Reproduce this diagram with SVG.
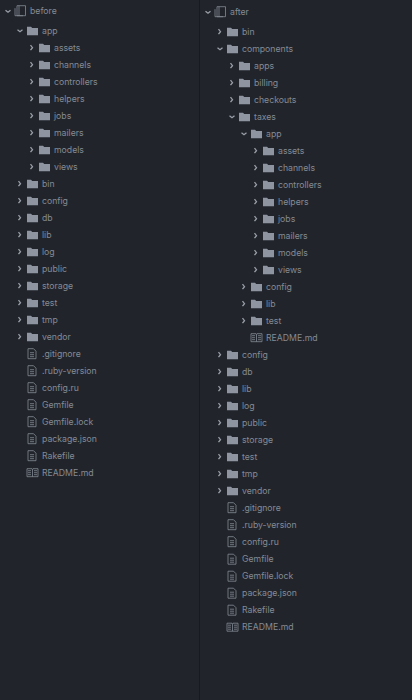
<svg xmlns="http://www.w3.org/2000/svg" width="412" height="700" viewBox="0 0 412 700">
<style>
text{font-family:Inter,"Liberation Sans",sans-serif;font-size:8.7px;fill:#858a94}
.c{fill:none;stroke:#9a9fa9;stroke-width:1.3}
.f{fill:#8f95a0}
.l{fill:none;stroke:#858b96;stroke-width:.8}
</style>
<defs>
<path id="o" class="c" d="M-23.500-2.500l2 2.500-2 2.500"/>
<path id="v" class="c" d="M-24.500-1l2.500 2 2.500-2"/>
<path id="d" class="f" d="M-15-4h4l1.200 1.200h5.800v7.300h-11z"/>
<g id="t"><path class="l" d="M-14-5h5.500l2.500 2.500v7.500h-8zM-12-1h4M-12 1h4M-12 3h4"/></g>
<g id="b"><path class="l" d="M-15-4h5l.5 1 .5-1h5v8h-11zM-9.500-3v7M-14-2h3M-14 0h3M-14 2h3M-8-2h3M-8 0h3M-8 2h3"/></g>
<g id="r"><path class="l" d="M-13-5.500h8.500v10h-8.500zM-11-5.500v10M-15-3v7.500h8"/></g>
</defs>
<rect width="412" height="700" fill="#21252b"/>
<rect x="199" width="1" height="700" fill="#181a1f"/>
<g id="before-tree" transform="translate(0,.7)">
<g id="l-root" transform="translate(30,10.500)"><use href="#v"/><use href="#r"/><text y="3">before</text></g>
<g id="l-app" transform="translate(42,30)"><use href="#v"/><use href="#d"/><text y="3">app</text></g>
<g id="l-assets" transform="translate(54,47)"><use href="#o"/><use href="#d"/><text y="3">assets</text></g>
<g id="l-channels" transform="translate(54,64)"><use href="#o"/><use href="#d"/><text y="3">channels</text></g>
<g id="l-controllers" transform="translate(54,81)"><use href="#o"/><use href="#d"/><text y="3">controllers</text></g>
<g id="l-helpers" transform="translate(54,98)"><use href="#o"/><use href="#d"/><text y="3">helpers</text></g>
<g id="l-jobs" transform="translate(54,115)"><use href="#o"/><use href="#d"/><text y="3">jobs</text></g>
<g id="l-mailers" transform="translate(54,132)"><use href="#o"/><use href="#d"/><text y="3">mailers</text></g>
<g id="l-models" transform="translate(54,149)"><use href="#o"/><use href="#d"/><text y="3">models</text></g>
<g id="l-views" transform="translate(54,166)"><use href="#o"/><use href="#d"/><text y="3">views</text></g>
<g id="l-bin" transform="translate(42,183)"><use href="#o"/><use href="#d"/><text y="3">bin</text></g>
<g id="l-config" transform="translate(42,200)"><use href="#o"/><use href="#d"/><text y="3">config</text></g>
<g id="l-db" transform="translate(42,217)"><use href="#o"/><use href="#d"/><text y="3">db</text></g>
<g id="l-lib" transform="translate(42,234)"><use href="#o"/><use href="#d"/><text y="3">lib</text></g>
<g id="l-log" transform="translate(42,251)"><use href="#o"/><use href="#d"/><text y="3">log</text></g>
<g id="l-public" transform="translate(42,268)"><use href="#o"/><use href="#d"/><text y="3">public</text></g>
<g id="l-storage" transform="translate(42,285)"><use href="#o"/><use href="#d"/><text y="3">storage</text></g>
<g id="l-test" transform="translate(42,302)"><use href="#o"/><use href="#d"/><text y="3">test</text></g>
<g id="l-tmp" transform="translate(42,319)"><use href="#o"/><use href="#d"/><text y="3">tmp</text></g>
<g id="l-vendor" transform="translate(42,336)"><use href="#o"/><use href="#d"/><text y="3">vendor</text></g>
<g id="l-gitignore" transform="translate(42,353)"><use href="#t"/><text y="3">.gitignore</text></g>
<g id="l-ruby" transform="translate(42,370)"><use href="#t"/><text y="3">.ruby-version</text></g>
<g id="l-configru" transform="translate(42,387)"><use href="#t"/><text y="3">config.ru</text></g>
<g id="l-gemfile" transform="translate(42,404)"><use href="#t"/><text y="3">Gemfile</text></g>
<g id="l-lock" transform="translate(42,421)"><use href="#t"/><text y="3">Gemfile.lock</text></g>
<g id="l-package" transform="translate(42,438)"><use href="#t"/><text y="3">package.json</text></g>
<g id="l-rake" transform="translate(42,455)"><use href="#t"/><text y="3">Rakefile</text></g>
<g id="l-readme" transform="translate(42,472)"><use href="#b"/><text y="3">README.md</text></g>
</g>
<g id="after-tree" transform="translate(0,.7)">
<g id="r-root" transform="translate(230,11.500)"><use href="#v"/><use href="#r"/><text y="3">after</text></g>
<g id="r-bin" transform="translate(242,31)"><use href="#o"/><use href="#d"/><text y="3">bin</text></g>
<g id="r-components" transform="translate(242,48)"><use href="#v"/><use href="#d"/><text y="3">components</text></g>
<g id="r-apps" transform="translate(254,65)"><use href="#o"/><use href="#d"/><text y="3">apps</text></g>
<g id="r-billing" transform="translate(254,82)"><use href="#o"/><use href="#d"/><text y="3">billing</text></g>
<g id="r-checkouts" transform="translate(254,99)"><use href="#o"/><use href="#d"/><text y="3">checkouts</text></g>
<g id="r-taxes" transform="translate(254,116)"><use href="#v"/><use href="#d"/><text y="3">taxes</text></g>
<g id="r-app" transform="translate(266,133)"><use href="#v"/><use href="#d"/><text y="3">app</text></g>
<g id="r-assets" transform="translate(278,150)"><use href="#o"/><use href="#d"/><text y="3">assets</text></g>
<g id="r-channels" transform="translate(278,167)"><use href="#o"/><use href="#d"/><text y="3">channels</text></g>
<g id="r-controllers" transform="translate(278,184)"><use href="#o"/><use href="#d"/><text y="3">controllers</text></g>
<g id="r-helpers" transform="translate(278,201)"><use href="#o"/><use href="#d"/><text y="3">helpers</text></g>
<g id="r-jobs" transform="translate(278,218)"><use href="#o"/><use href="#d"/><text y="3">jobs</text></g>
<g id="r-mailers" transform="translate(278,235)"><use href="#o"/><use href="#d"/><text y="3">mailers</text></g>
<g id="r-models" transform="translate(278,252)"><use href="#o"/><use href="#d"/><text y="3">models</text></g>
<g id="r-views" transform="translate(278,269)"><use href="#o"/><use href="#d"/><text y="3">views</text></g>
<g id="r-tconfig" transform="translate(266,286)"><use href="#o"/><use href="#d"/><text y="3">config</text></g>
<g id="r-tlib" transform="translate(266,303)"><use href="#o"/><use href="#d"/><text y="3">lib</text></g>
<g id="r-ttest" transform="translate(266,320)"><use href="#o"/><use href="#d"/><text y="3">test</text></g>
<g id="r-treadme" transform="translate(266,337)"><use href="#b"/><text y="3">README.md</text></g>
<g id="r-config" transform="translate(242,354)"><use href="#o"/><use href="#d"/><text y="3">config</text></g>
<g id="r-db" transform="translate(242,371)"><use href="#o"/><use href="#d"/><text y="3">db</text></g>
<g id="r-lib" transform="translate(242,388)"><use href="#o"/><use href="#d"/><text y="3">lib</text></g>
<g id="r-log" transform="translate(242,405)"><use href="#o"/><use href="#d"/><text y="3">log</text></g>
<g id="r-public" transform="translate(242,422)"><use href="#o"/><use href="#d"/><text y="3">public</text></g>
<g id="r-storage" transform="translate(242,439)"><use href="#o"/><use href="#d"/><text y="3">storage</text></g>
<g id="r-test" transform="translate(242,456)"><use href="#o"/><use href="#d"/><text y="3">test</text></g>
<g id="r-tmp" transform="translate(242,473)"><use href="#o"/><use href="#d"/><text y="3">tmp</text></g>
<g id="r-vendor" transform="translate(242,490)"><use href="#o"/><use href="#d"/><text y="3">vendor</text></g>
<g id="r-gitignore" transform="translate(242,507)"><use href="#t"/><text y="3">.gitignore</text></g>
<g id="r-ruby" transform="translate(242,524)"><use href="#t"/><text y="3">.ruby-version</text></g>
<g id="r-configru" transform="translate(242,541)"><use href="#t"/><text y="3">config.ru</text></g>
<g id="r-gemfile" transform="translate(242,558.500)"><use href="#t"/><text y="3">Gemfile</text></g>
<g id="r-lock" transform="translate(242,575.500)"><use href="#t"/><text y="3">Gemfile.lock</text></g>
<g id="r-package" transform="translate(242,592.500)"><use href="#t"/><text y="3">package.json</text></g>
<g id="r-rake" transform="translate(242,609.500)"><use href="#t"/><text y="3">Rakefile</text></g>
<g id="r-readme" transform="translate(242,626.500)"><use href="#b"/><text y="3">README.md</text></g>
</g>
</svg>
